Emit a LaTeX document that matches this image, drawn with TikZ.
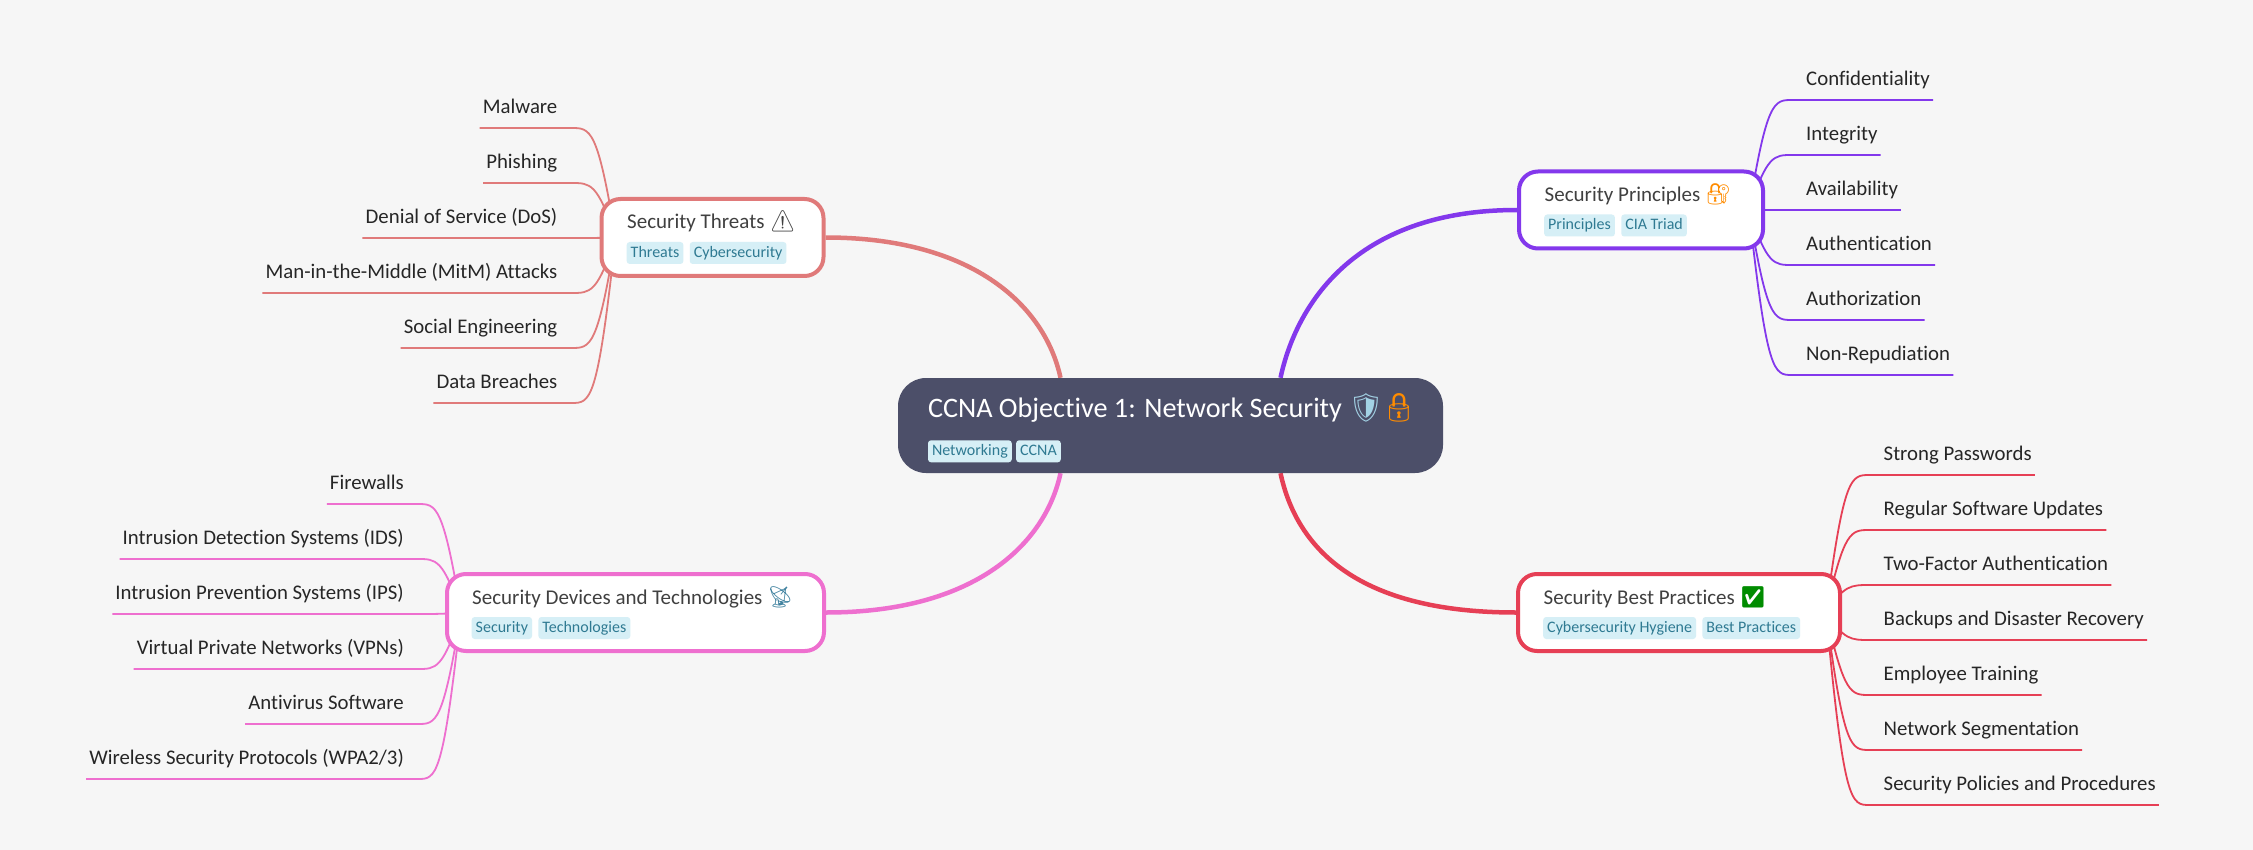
\documentclass[tikz,border=0pt]{standalone}
\usepackage{fontspec}
\setmainfont{Carlito}[Ligatures=NoCommon]
\newfontfamily\emojiFont{Noto Emoji}
\usepackage{xcolor}
\usetikzlibrary{positioning,calc,backgrounds}
\definecolor{pageBg}{HTML}{F6F6F6}
\definecolor{rootFill}{HTML}{4C4F69}
\definecolor{tagFill}{HTML}{D6EFF6}
\definecolor{tagText}{HTML}{2F7A92}
\definecolor{threatCol}{HTML}{E07A7A}
\definecolor{princCol}{HTML}{8338EC}
\definecolor{bestCol}{HTML}{E63F55}
\definecolor{devCol}{HTML}{EE6FCF}
\tikzstyle{rootNode} = [rectangle, rounded corners=28pt, fill=rootFill, minimum width=545pt, minimum height=95pt, inner sep=0pt]
\tikzstyle{branchNode} = [rectangle, rounded corners=19pt, fill=white, line width=4pt, minimum height=77pt, inner sep=0pt]
\tikzstyle{titleNode} = [anchor=base west, inner sep=0pt, text=black!75, font=\fontsize{21}{24}\selectfont]
\tikzstyle{tagNode} = [rectangle, rounded corners=3pt, fill=tagFill, text=tagText, inner xsep=4pt, inner ysep=0pt, text height=13pt, text depth=4pt, minimum height=22pt, font=\fontsize{16}{20}\selectfont]
\tikzstyle{leafNode} = [inner xsep=3pt, inner ysep=10.5pt, text height=14pt, text depth=4pt, text=black!85, font=\fontsize{20.8}{24}\selectfont]
\tikzstyle{mainLine} = [line width=4.5pt]
\tikzstyle{subLine} = [line width=1.8pt]
\newcommand{\linkR}[3]{\draw[subLine,#1]($(#2.east)+(-16,0)$) .. controls (#2 A |- #3.south) and (#2 B |- #3.south) .. ($(#3.south west)+(-11,0)$) -- (#3.south east);}
\newcommand{\linkL}[3]{\draw[subLine,#1]($(#2.west)+(16,0)$) .. controls (#2 A |- #3.south) and (#2 B |- #3.south) .. ($(#3.south east)+(11,0)$) -- (#3.south west);}
\begin{document}
\begin{tikzpicture}[x=1pt,y=-1pt]
            \node (root) at (1170.5,425.5) [rootNode] {};
            \node (rootT) at ($(root.north west)+(30,40)$) [titleNode, text=white, font=\fontsize{28.2}{32}\selectfont] {CCNA Objective 1: Network Security {\emojiFont\color{black!25!cyan!40!white}🛡}\kern-3pt{\emojiFont\color{orange!90!yellow}🔒}};
            \node (rootA) at ($(root.north west)+(30,73.5)$) [tagNode, anchor=west] {Networking};
            \node (rootB) [tagNode, right=4pt of rootA] {CCNA};

            \node (threat) at (712.5,237.5) [branchNode, draw=threatCol, minimum width=222pt] {};
            \node (threatT) at ($(threat.north west)+(27.5,32)$) [titleNode] {Security Threats {\emojiFont ⚠}};
            \node (threatA) at ($(threat.north west)+(27,56)$) [tagNode, anchor=west] {Threats};
            \node (threatB) [tagNode, right=6pt of threatA] {Cybersecurity};

            \node (princ) at (1641,210) [branchNode, draw=princCol, minimum width=244pt] {};
            \node (princT) at ($(princ.north west)+(27.5,32)$) [titleNode] {Security Principles {\emojiFont\color{orange!90!yellow}🔐}};
            \node (princA) at ($(princ.north west)+(27,56)$) [tagNode, anchor=west] {Principles};
            \node (princB) [tagNode, right=6pt of princA] {CIA Triad};

            \node (best) at (1679,612.5) [branchNode, draw=bestCol, minimum width=322pt] {};
            \node (bestT) at ($(best.north west)+(27.5,32)$) [titleNode] {Security Best Practices {\emojiFont\color{green!55!black}✅}};
            \node (bestA) at ($(best.north west)+(27,56)$) [tagNode, anchor=west] {Cybersecurity Hygiene};
            \node (bestB) [tagNode, right=6pt of bestA] {Best Practices};

            \node (dev) at (635.5,612.5) [branchNode, draw=devCol, minimum width=377pt] {};
            \node (devT) at ($(dev.north west)+(27,32)$) [titleNode] {Security Devices and Technologies {\emojiFont\color{cyan!60!black}📡}};
            \node (devA) at ($(dev.north west)+(26.5,56)$) [tagNode, anchor=west] {Security};
            \node (devB) [tagNode, right=6pt of devA] {Technologies};

            % leaves, text ends at the box side
            \node (t1) at (560.5,128) [leafNode, anchor=south east] {Malware};
            \node (t2) at (560.5,183) [leafNode, anchor=south east] {Phishing};
            \node (t3) at (560.5,238) [leafNode, anchor=south east] {Denial of Service (DoS)};
            \node (t4) at (560.5,293) [leafNode, anchor=south east] {Man-in-the-Middle (MitM) Attacks};
            \node (t5) at (560.5,348) [leafNode, anchor=south east] {Social Engineering};
            \node (t6) at (560.5,403) [leafNode, anchor=south east] {Data Breaches};

            \node (p1) at (1803,100) [leafNode, anchor=south west] {Confidentiality};
            \node (p2) at (1803,155) [leafNode, anchor=south west] {Integrity};
            \node (p3) at (1803,210) [leafNode, anchor=south west] {Availability};
            \node (p4) at (1803,265) [leafNode, anchor=south west] {Authentication};
            \node (p5) at (1803,320) [leafNode, anchor=south west] {Authorization};
            \node (p6) at (1803,375) [leafNode, anchor=south west] {Non-Repudiation};

            \node (b1) at (1880.5,475) [leafNode, anchor=south west] {Strong Passwords};
            \node (b2) at (1880.5,530) [leafNode, anchor=south west] {Regular Software Updates};
            \node (b3) at (1880.5,585) [leafNode, anchor=south west] {Two-Factor Authentication};
            \node (b4) at (1880.5,640) [leafNode, anchor=south west] {Backups and Disaster Recovery};
            \node (b5) at (1880.5,695) [leafNode, anchor=south west] {Employee Training};
            \node (b6) at (1880.5,750) [leafNode, anchor=south west] {Network Segmentation};
            \node (b7) at (1880.5,805) [leafNode, anchor=south west] {Security Policies and Procedures};

            \node (d1) at (407,504) [leafNode, anchor=south east] {Firewalls};
            \node (d2) at (407,559) [leafNode, anchor=south east] {Intrusion Detection Systems (IDS)};
            \node (d3) at (407,614) [leafNode, anchor=south east] {Intrusion Prevention Systems (IPS)};
            \node (d4) at (407,669) [leafNode, anchor=south east] {Virtual Private Networks (VPNs)};
            \node (d5) at (407,724) [leafNode, anchor=south east] {Antivirus Software};
            \node (d6) at (407,779) [leafNode, anchor=south east] {Wireless Security Protocols (WPA2/3)};

            % control points for the fans
            \coordinate (threat A) at ($(threat.west)+(-2,0)$);
            \coordinate (threat B) at ($(threat.west)+(-9,0)$);
            \coordinate (princ A) at ($(princ.east)+(2,0)$);
            \coordinate (princ B) at ($(princ.east)+(9,0)$);
            \coordinate (best A) at ($(best.east)+(2,0)$);
            \coordinate (best B) at ($(best.east)+(9,0)$);
            \coordinate (dev A) at ($(dev.west)+(-2,0)$);
            \coordinate (dev B) at ($(dev.west)+(-9,0)$);

            \begin{scope}[on background layer]
            \useasboundingbox[fill=pageBg] (0,0) rectangle (2253,850);
            \draw[mainLine,threatCol](threat.east) .. controls ($(threat.east)+(150,0)$) and ($(root.north)+(-125,-70)$) .. ($(root.north)+(-110,0)$);
            \draw[mainLine,princCol](princ.west) .. controls ($(princ.west)+(-165,0)$) and ($(root.north)+(125,-70)$) .. ($(root.north)+(110,0)$);
            \draw[mainLine,bestCol](best.west) .. controls ($(best.west)+(-165,0)$) and ($(root.south)+(125,70)$) .. ($(root.south)+(110,0)$);
            \draw[mainLine,devCol](dev.east) .. controls ($(dev.east)+(150,0)$) and ($(root.south)+(-125,70)$) .. ($(root.south)+(-110,0)$);
            \linkL{threatCol}{threat}{t1}
            \linkL{threatCol}{threat}{t2}
            \linkL{threatCol}{threat}{t3}
            \linkL{threatCol}{threat}{t4}
            \linkL{threatCol}{threat}{t5}
            \linkL{threatCol}{threat}{t6}
            \linkR{princCol}{princ}{p1}
            \linkR{princCol}{princ}{p2}
            \linkR{princCol}{princ}{p3}
            \linkR{princCol}{princ}{p4}
            \linkR{princCol}{princ}{p5}
            \linkR{princCol}{princ}{p6}
            \linkR{bestCol}{best}{b1}
            \linkR{bestCol}{best}{b2}
            \linkR{bestCol}{best}{b3}
            \linkR{bestCol}{best}{b4}
            \linkR{bestCol}{best}{b5}
            \linkR{bestCol}{best}{b6}
            \linkR{bestCol}{best}{b7}
            \linkL{devCol}{dev}{d1}
            \linkL{devCol}{dev}{d2}
            \linkL{devCol}{dev}{d3}
            \linkL{devCol}{dev}{d4}
            \linkL{devCol}{dev}{d5}
            \linkL{devCol}{dev}{d6}
            \end{scope}
        \end{tikzpicture}
\end{document}
